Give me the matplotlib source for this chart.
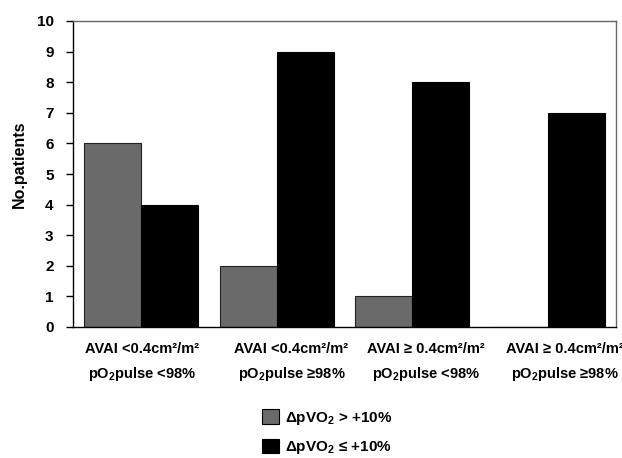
import matplotlib
matplotlib.use('Agg')
import matplotlib.pyplot as plt
import numpy as np
from matplotlib.patches import Patch

plt.rcParams['font.family'] = ['Liberation Sans', 'DejaVu Sans']
plt.rcParams['font.weight'] = 'bold'
plt.rcParams['mathtext.fontset'] = 'custom'
plt.rcParams['mathtext.rm'] = 'Liberation Sans:bold'
plt.rcParams['mathtext.it'] = 'Liberation Sans:bold'
plt.rcParams['mathtext.bf'] = 'Liberation Sans:bold'

# Data
categories = [
    'AVAI <0.4cm\u00b2/m\u00b2\npO$_2$pulse <98%',
    'AVAI <0.4cm\u00b2/m\u00b2\npO$_2$pulse \u226598%',
    'AVAI \u2265 0.4cm\u00b2/m\u00b2\npO$_2$pulse <98%',
    'AVAI \u2265 0.4cm\u00b2/m\u00b2\npO$_2$pulse \u226598%',
]
improved = [6, 2, 1, 0]       # dpVO2 > +10%
not_improved = [4, 9, 8, 7]   # dpVO2 <= +10%
series_labels = ['\u0394pVO$_2$ > +10%', '\u0394pVO$_2$ \u2264 +10%']
series_colors = ['#6a6a6a', '#000000']
yticks = list(range(0, 11))

fig = plt.figure(figsize=(6.22, 4.58), dpi=100)
ax = fig.add_axes([73 / 622, 1 - 327 / 458, (616 - 73) / 622, (327 - 21) / 458])

x = np.arange(len(categories))
w = 0.42
ax.bar(x - w / 2, improved, width=w, color=series_colors[0], edgecolor='#222222', linewidth=0.8)
ax.bar(x + w / 2, not_improved, width=w, color=series_colors[1], edgecolor='#000000', linewidth=0.8)

ax.set_xlim(-0.5, 3.5)
ax.set_ylim(0, 10)
ax.set_yticks(yticks)
ax.set_yticklabels([str(t) for t in yticks], fontsize=11, fontweight='bold')
ax.tick_params(axis='y', direction='out', length=5, width=1, pad=9)

# category labels in the original sit a little right of the bar groups
label_shift = [0.01, 0.11, 0.10, 0.12]
ax.set_xticks(x + np.array(label_shift))
ax.set_xticklabels(categories, fontsize=10.5, fontweight='bold', linespacing=1.7)
ax.tick_params(axis='x', length=0, pad=11)
ax.set_ylabel('No.patients', fontsize=11.5, fontweight='bold')
ax.yaxis.set_label_coords((27 - 73) / 543, (327 - 164) / 306)

for s in ['left', 'bottom']:
    ax.spines[s].set_color('#000000')
    ax.spines[s].set_linewidth(1)
for s in ['top', 'right']:
    ax.spines[s].set_color('#666666')
    ax.spines[s].set_linewidth(1)

handles = [Patch(facecolor=c, edgecolor='#000000', linewidth=0.8) for c in series_colors]
fig.legend(handles, series_labels, loc='upper left', bbox_to_anchor=(262 / 622, 1 - 409 / 458),
           frameon=False, handlelength=1.1, handleheight=1.1,
           labelspacing=0.8, handletextpad=0.4, borderpad=0, borderaxespad=0,
           prop={'weight': 'bold', 'size': 11})

fig.savefig('out.png', dpi=100)
